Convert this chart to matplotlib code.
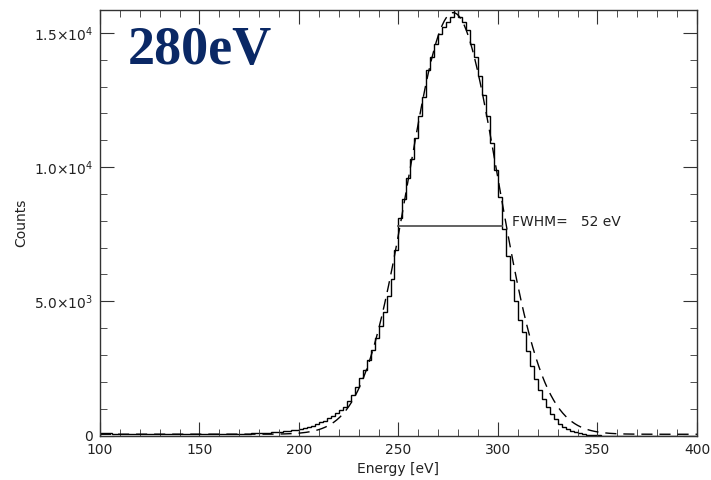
import matplotlib.pyplot as plt
import numpy as np

# spectrum: 2 eV bins from 100 to 400 eV
bin_edges = np.arange(100, 402, 2)
counts = [
    90, 80, 85, 70, 75, 70, 65, 70, 60, 65,                       # 100-118
    60, 55, 60, 55, 60, 55, 50, 55, 50, 55,                       # 120-138
    50, 55, 50, 55, 50, 55, 50, 55, 60, 55,                       # 140-158
    60, 55, 60, 65, 60, 65, 70, 75, 80, 85,                       # 160-178
    90, 100, 110, 120, 135, 150, 165, 180, 195, 210,              # 180-198
    230, 270, 310, 360, 420, 500, 560, 640, 720, 830,             # 200-218
    950, 1080, 1300, 1520, 1800, 2150, 2450, 2800, 3200, 3650,    # 220-238
    4100, 4600, 5200, 5850, 6900, 8100, 8800, 9600, 10300, 11100, # 240-258
    11900, 12600, 13600, 14100, 14600, 14950, 15200, 15400, 15600, 15900,  # 260-278
    15600, 15400, 15100, 14600, 14100, 13400, 12700, 11900, 10900, 9900,   # 280-298
    8900, 7700, 6700, 5800, 5000, 4300, 3850, 3150, 2600, 2100,   # 300-318
    1700, 1350, 1050, 800, 600, 450, 330, 240, 170, 120,          # 320-338
    80, 55, 35, 20, 10, 5, 0, 0, 0, 0,                            # 340-358
    0, 0, 0, 0, 0, 0, 0, 0, 0, 0,                                 # 360-378
    0, 0, 0, 0, 0, 0, 0, 0, 0, 0,                                 # 380-398
]

# gaussian fit parameters
fit_amp = 15700
fit_center = 277.5
fit_sigma = 22.5
fit_bg = 50

# full width at half maximum
half_max = 7800
fwhm_left = 250
fwhm = 52

x_fit = np.linspace(100, 400, 601)
y_fit = fit_bg + fit_amp * np.exp(-(x_fit - fit_center) ** 2 / (2 * fit_sigma ** 2))

fig = plt.figure(figsize=(7.11, 4.80), dpi=100)
ax = fig.add_axes([0.1406, 0.0925, 0.8397, 0.8867])

ax.stairs(counts, bin_edges, color="black", lw=1.0)
ax.plot(x_fit, y_fit, color="black", lw=1.0, dashes=(8, 5))
ax.plot([fwhm_left, fwhm_left + fwhm], [half_max, half_max], color="#555555", lw=1.3)
ax.text(fwhm_left + fwhm + 5, half_max + 150, "FWHM=   %d eV" % fwhm,
        fontsize=10, color="#222222", va="center")

ax.text(0.047, 0.962, "280eV", transform=ax.transAxes, fontsize=39,
        fontweight="bold", family="Liberation Serif", color="#0a2865",
        va="top", ha="left")

ax.set_xlim(100, 400)
ax.set_ylim(0, 15850)
ax.set_xticks([100, 150, 200, 250, 300, 350, 400])
ax.set_xticks(np.arange(100, 401, 10), minor=True)
ax.set_yticks([0, 5000, 10000, 15000])
ax.set_yticks(np.arange(0, 15001, 1000), minor=True)
ax.set_yticklabels(["0", r"5.0$\times$10$^3$", r"1.0$\times$10$^4$", r"1.5$\times$10$^4$"])

ax.tick_params(which="both", direction="in", top=True, right=True,
               labelsize=10, labelcolor="#222222", color="#333333")
ax.tick_params(which="major", length=10, pad=5)
ax.tick_params(which="minor", length=5)
for s in ax.spines.values():
    s.set_color("#333333")
    s.set_linewidth(1.0)

ax.set_xlabel("Energy [eV]", fontsize=10, color="#222222", labelpad=4)
ax.set_ylabel("Counts", fontsize=10, color="#222222", labelpad=4)

fig.savefig("out.png", dpi=100)
